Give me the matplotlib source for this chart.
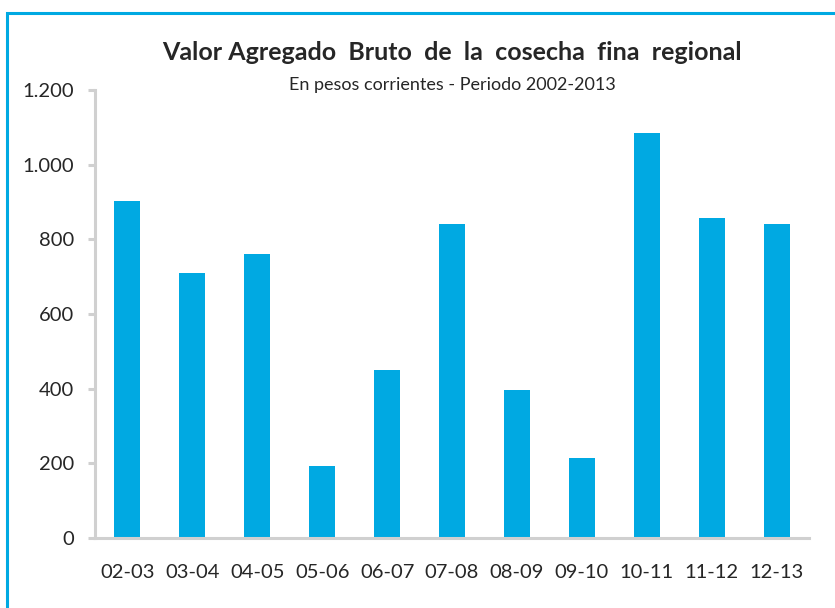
import matplotlib.pyplot as plt
from matplotlib.patches import Rectangle

# campaigns and gross value added (current pesos)
campanias = ["02-03", "03-04", "04-05", "05-06", "06-07", "07-08",
             "08-09", "09-10", "10-11", "11-12", "12-13"]
valores = [903, 710, 761, 193, 450, 841, 396, 214, 1085, 857, 841]
yticks = [0, 200, 400, 600, 800, 1000, 1200]

azul = "#00a9e2"
gris = "#d0d0d0"
texto = "#262626"

plt.rcParams['font.family'] = ['Lato', 'DejaVu Sans']

fig = plt.figure(figsize=(8.35, 6.08), dpi=100)
W, H = 835, 608
ax = fig.add_axes([95 / W, (H - 538) / H, (809 - 95) / W, (538 - 90) / H])

ax.bar(range(len(campanias)), valores, width=0.4, color=azul)
ax.set_xlim(-0.5, len(campanias) - 0.5)
ax.set_ylim(0, 1200)
ax.set_yticks(yticks)
ax.set_yticklabels([f"{v:,}".replace(",", ".") for v in yticks])
ax.set_xticks(range(len(campanias)))
ax.set_xticklabels(campanias)

for s in ["top", "right"]:
    ax.spines[s].set_visible(False)
for s in ["left", "bottom"]:
    ax.spines[s].set_color(gris)
    ax.spines[s].set_linewidth(2.2)
ax.tick_params(axis="y", length=5, width=2.2, color=gris, pad=10,
               labelsize=14.5, labelcolor=texto)
ax.tick_params(axis="x", length=0, pad=19, labelsize=14.5, labelcolor=texto)

fig.text(452 / W, 1 - 52 / H, "Valor Agregado  Bruto  de  la  cosecha  fina  regional",
         ha="center", va="center", fontsize=18, fontweight="bold", color=texto)
fig.text(452 / W, 1 - 85 / H, "En pesos corrientes - Periodo 2002-2013",
         ha="center", va="center", fontsize=13, color=texto)

# outer frame, cut off at right and bottom
fig.patches.append(Rectangle((7 / W, -0.1), 1.2, 1 - 13 / H + 0.1,
                             transform=fig.transFigure, fill=False,
                             edgecolor=azul, linewidth=2.2))

fig.savefig("out.png", dpi=100)
